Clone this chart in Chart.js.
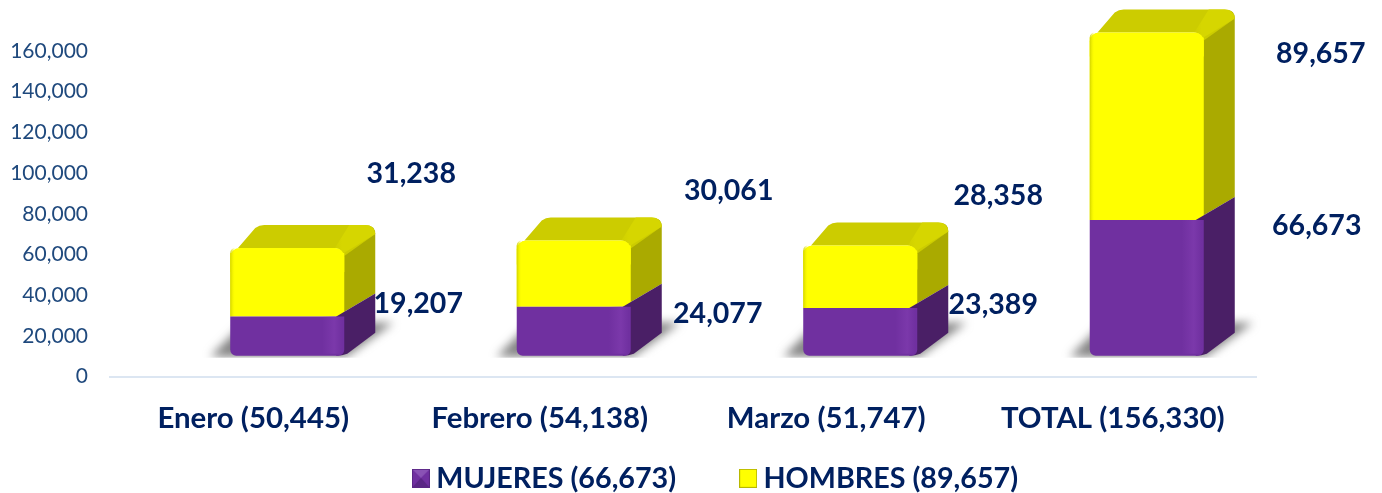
<!DOCTYPE html>
<html><head><meta charset="utf-8">
<style>html,body{margin:0;padding:0;background:#fff}canvas{display:block}</style>
<script src="https://cdn.jsdelivr.net/npm/chart.js@4/dist/chart.umd.min.js"></script>
</head><body><canvas id="c" width="1382" height="493"></canvas>
<script>
const categories = ["Enero (50,445)", "Febrero (54,138)", "Marzo (51,747)", "TOTAL (156,330)"];
const mujeres = [19207, 24077, 23389, 66673];
const hombres = [31238, 30061, 28358, 89657];
const seriesNames = ["MUJERES (66,673)", "HOMBRES (89,657)"];
const yTicks = [0, 20000, 40000, 60000, 80000, 100000, 120000, 140000, 160000];

const FRONT_DX = 34, FRONT_DY = -21, DEPTH_X = 31, DEPTH_Y = 23, BEVEL = 5;
const faces = [
  {front:"#7030a0", side:"#4a1f66"},
  {front:"#ffff00", side:"#aaaa00", top:"#cccc00", topGlow:"#d6d600"}
];
// value label offsets: dx from band centre, dy from segment top
const labelAnchors = {
  0: [[165,-34],[178,-14],[167,-24],[204,-15]],
  1: [[158,-100],[189,-76],[172,-76],[208,-5]]
};

function makeSwatch(main, dark, light){
  const s = document.createElement('canvas'); s.width = 18; s.height = 19;
  const g = s.getContext('2d');
  g.fillStyle = main; g.fillRect(0,0,18,19);
  if (dark){
    g.fillStyle = light; g.beginPath(); g.moveTo(0,0); g.lineTo(18,0); g.lineTo(9,9); g.closePath(); g.fill();
    g.fillStyle = dark;  g.beginPath(); g.moveTo(0,19); g.lineTo(18,19); g.lineTo(9,9); g.closePath(); g.fill();
  }
  g.strokeStyle = dark || "#b8b800"; g.lineWidth = 1; g.strokeRect(.5,.5,17,18);
  return s;
}
const swatches = [makeSwatch("#7030a0","#5a2685","#8a52b5"), makeSwatch("#ffff00",null,null)];

const solid3d = {
  id:'solid3d',
  beforeLayout(chart){
    // the wide legend gap must not take vertical room from the plot
    const l = chart.legend;
    if (!l._fitWrapped){
      const fit = l.fit;
      l.fit = function(){ fit.call(this); this.height = 41; };
      l._fitWrapped = true;
    }
  },
  afterLayout(chart){
    const l = chart.legend;
    l.top = 393; l.bottom = 493;
    l.left += 91; l.right += 91;
  },
  beforeDatasetsDraw(chart){
    const ctx = chart.ctx, m0 = chart.getDatasetMeta(0);
    m0.data.forEach(el=>{
      const L = el.x - el.width/2 + FRONT_DX, R = el.x + el.width/2 + FRONT_DX, B = el.base + FRONT_DY;
      ctx.save();
      ctx.beginPath(); ctx.rect(L-40, B-45, R-L+100, 47); ctx.clip();
      ctx.filter = 'blur(5px)';
      ctx.fillStyle = 'rgba(100,100,100,0.8)';
      ctx.beginPath();
      ctx.moveTo(L-20,B+1); ctx.lineTo(L+14,B-33); ctx.lineTo(R+DEPTH_X+18,B-33); ctx.lineTo(R+2,B+1); ctx.closePath();
      ctx.fill();
      ctx.restore();
    });
  },
  beforeDatasetDraw(chart,args){
    const ctx = chart.ctx, i = args.index, meta = chart.getDatasetMeta(i), f = faces[i];
    meta.data.forEach(el=>{
      const L = el.x - el.width/2 + FRONT_DX, R = el.x + el.width/2 + FRONT_DX;
      const T = el.y + FRONT_DY - (i===1?BEVEL:0), B = el.base + FRONT_DY;
      ctx.save();
      ctx.fillStyle = f.side;
      ctx.beginPath();
      if (i===1){
        ctx.moveTo(R-6,T+4); ctx.lineTo(R+DEPTH_X-9,T-DEPTH_Y+1);
        ctx.quadraticCurveTo(R+DEPTH_X,T-DEPTH_Y,R+DEPTH_X,T-DEPTH_Y+9);
      } else {
        ctx.moveTo(R-8,T); ctx.lineTo(R+DEPTH_X,T-DEPTH_Y);
      }
      ctx.lineTo(R+DEPTH_X,B-DEPTH_Y);
      if (i===0){ ctx.lineTo(R+3,B-2); ctx.quadraticCurveTo(R-2,B,R-8,B); }
      else ctx.lineTo(R-8,B);
      ctx.closePath(); ctx.fill();
      if (f.top){
        ctx.fillStyle = f.top;
        ctx.beginPath();
        ctx.moveTo(L,T+9); ctx.quadraticCurveTo(L+1,T+3,L+8,T);
        ctx.lineTo(R-8,T); ctx.quadraticCurveTo(R-2,T+1,R,T+8);
        ctx.lineTo(R+DEPTH_X,T-DEPTH_Y+9);
        ctx.quadraticCurveTo(R+DEPTH_X-1,T-DEPTH_Y,R+DEPTH_X-10,T-DEPTH_Y);
        ctx.lineTo(L+DEPTH_X+3,T-DEPTH_Y);
        ctx.quadraticCurveTo(L+DEPTH_X-2,T-DEPTH_Y,L+DEPTH_X-6,T-DEPTH_Y+3);
        ctx.closePath(); ctx.fill();
        const g = ctx.createLinearGradient(R-14,0,R+10,0);
        g.addColorStop(0,'rgba(214,214,0,0)'); g.addColorStop(.5,f.topGlow); g.addColorStop(1,f.topGlow);
        ctx.fillStyle = g;
        ctx.beginPath();
        ctx.moveTo(R-2,T+6); ctx.lineTo(R+DEPTH_X,T-DEPTH_Y+9);
        ctx.quadraticCurveTo(R+DEPTH_X-1,T-DEPTH_Y,R+DEPTH_X-10,T-DEPTH_Y);
        ctx.lineTo(R+DEPTH_X-26,T-DEPTH_Y); ctx.lineTo(R-10,T+1); ctx.closePath(); ctx.fill();
      }
      ctx.restore();
    });
    ctx.save();
    ctx.translate(FRONT_DX, FRONT_DY);
  },
  afterDatasetDraw(chart,args){
    const ctx = chart.ctx, i = args.index, meta = chart.getDatasetMeta(i);
    meta.data.forEach(el=>{
      const L = el.x - el.width/2, R = el.x + el.width/2;
      if (i===0){
        const g = ctx.createLinearGradient(R-22,0,R-2,0);
        g.addColorStop(0,'rgba(128,60,175,0)'); g.addColorStop(.6,'rgba(128,60,175,0.7)'); g.addColorStop(1,'rgba(128,60,175,0)');
        ctx.fillStyle = g; ctx.fillRect(R-22, el.y, 20, el.base-el.y-2);
      } else {
        ctx.fillStyle = faces[1].front;
        ctx.beginPath();
        ctx.roundRect(L, el.y-BEVEL, R-L, 24, [9,9,0,0]);
        ctx.fill();
        const g = ctx.createLinearGradient(L,0,L+5,0);
        g.addColorStop(0,'rgba(205,205,0,0.9)'); g.addColorStop(1,'rgba(255,255,0,0)');
        ctx.fillStyle = g;
        ctx.beginPath();
        ctx.roundRect(L, el.y-BEVEL, 5, el.base-el.y+BEVEL, [9,0,0,0]);
        ctx.fill();
      }
    });
    ctx.restore();
  },
  afterDatasetsDraw(chart){
    const ctx = chart.ctx;
    ctx.save();
    ctx.font = "bold 28.5px Lato"; ctx.fillStyle = "#002060";
    ctx.textAlign = "center"; ctx.textBaseline = "middle";
    [0,1].forEach(i=>{
      const vals = chart.data.datasets[i].data;
      chart.getDatasetMeta(i).data.forEach((el,k)=>{
        const [dx,dy] = labelAnchors[i][k];
        ctx.fillText(vals[k].toLocaleString('en-US'), el.x+dx, el.y+dy);
      });
    });
    ctx.restore();
  }
};

new Chart(document.getElementById('c'),{
  type:'bar',
  data:{labels:categories,datasets:[
    {label:seriesNames[0],data:mujeres,backgroundColor:faces[0].front,borderWidth:0,borderSkipped:false,
     borderRadius:{topLeft:0,topRight:0,bottomLeft:6,bottomRight:6},inflateAmount:0,pointStyle:swatches[0]},
    {label:seriesNames[1],data:hombres,backgroundColor:faces[1].front,borderWidth:0,borderSkipped:false,
     borderRadius:0,inflateAmount:0,pointStyle:swatches[1]}
  ]},
  plugins:[solid3d],
  options:{
    responsive:false,animation:false,
    layout:{padding:{top:51,right:126,left:0,bottom:0}},
    datasets:{bar:{categoryPercentage:1,barPercentage:0.398,clip:false}},
    scales:{
      x:{stacked:true,grid:{display:false},
         border:{display:true,color:"#dce6f2",width:2},
         ticks:{color:"#002060",font:{family:"Lato",size:29.4,weight:"bold"},padding:16,maxRotation:0,autoSkip:false}},
      y:{stacked:true,min:0,max:160000,
         afterBuildTicks(s){s.ticks=yTicks.map(v=>({value:v}));},
         afterFit(s){s.width=110;},
         grid:{display:false},border:{display:false},
         ticks:{color:"#1f497d",font:{family:"Lato",size:21},padding:14,
                callback:v=>v.toLocaleString('en-US')}}
    },
    plugins:{
      tooltip:{enabled:false},
      legend:{position:'bottom',
        labels:{color:"#002060",font:{family:"Lato",size:28.7,weight:"bold"},usePointStyle:true,pointStyleWidth:2,padding:71}}
    }
  }
});
</script></body></html>
